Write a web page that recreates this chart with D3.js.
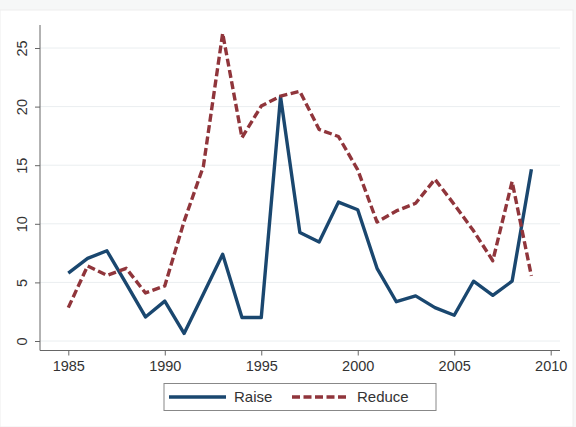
<!DOCTYPE html>
<html>
<head>
<meta charset="utf-8">
<script src="https://cdn.jsdelivr.net/npm/d3@7"></script>
<style>
  body { margin: 0; background: #f6f7f7; }
  svg { display: block; }
  svg text { font-family: "Liberation Sans", Arial, sans-serif; }
</style>
</head>
<body>
<div id="vis"></div>
<script>
const width = 576;
const height = 427;

// data
const years = d3.range(1985, 2010);
const raise = [5.8, 7.05, 7.7, 4.9, 2.05, 3.4, 0.65, 4.0, 7.4, 2.0, 2.0, 20.85,
               9.25, 8.45, 11.85, 11.2, 6.2, 3.35, 3.85, 2.85, 2.2, 5.1, 3.9, 5.1, 14.65];
const reduce = [2.85, 6.4, 5.6, 6.2, 4.1, 4.7, 10.2, 14.9, 26.25, 17.35, 20.05, 20.9,
                21.3, 18.05, 17.45, 14.6, 10.15, 11.1, 11.75, 13.8, 11.65, 9.4, 6.85, 13.6, 5.55];
const xTicks = [1985, 1990, 1995, 2000, 2005, 2010];
const yTicks = [0, 5, 10, 15, 20, 25];

const series = [
    { name: 'Raise', values: raise, color: '#1a476f', dash: null },
    { name: 'Reduce', values: reduce, color: '#90353b', dash: '8,3.5' }
];

let vis = d3.select('#vis')
            .append('svg')
            .attr('width', width)
            .attr('height', height);

// white graph region
vis.append('rect')
   .attr('x', 0).attr('y', 10)
   .attr('width', 573).attr('height', height - 10)
   .attr('fill', '#ffffff')
   .attr('stroke', '#eeeeee');

const x = d3.scaleLinear().domain([1985, 2010]).range([68.3, 550.7]);
const y = d3.scaleLinear().domain([0, 25]).range([341, 48]);

// gridlines
vis.append('g')
   .selectAll('line')
   .data(yTicks)
   .enter()
   .append('line')
   .attr('x1', 40).attr('x2', 560)
   .attr('y1', d => y(d)).attr('y2', d => y(d))
   .attr('stroke', '#eaeef0')
   .attr('stroke-width', 1);

// y axis
const yAxis = vis.append('g')
   .attr('transform', 'translate(40,0)')
   .call(d3.axisLeft(y).tickValues(yTicks).tickSize(5).tickPadding(6));
yAxis.select('.domain').attr('d', 'M-0,25V350.5');

// x axis
const xAxis = vis.append('g')
   .attr('transform', 'translate(0,350.5)')
   .call(d3.axisBottom(x).tickValues(xTicks).tickFormat(d3.format('d')).tickSize(5).tickPadding(5));
xAxis.select('.domain').attr('d', 'M40,0H560');

vis.selectAll('.domain').attr('stroke', '#666');
vis.selectAll('.tick line').attr('stroke', '#666');
vis.selectAll('.tick text').attr('fill', '#333').style('font-size', '14.5px');

// rotated y labels
yAxis.selectAll('.tick text')
     .attr('x', null).attr('dy', null)
     .attr('text-anchor', 'middle')
     .attr('transform', 'translate(-18,0) rotate(-90)')
     .attr('dy', '0.35em');

// lines
const line = d3.line()
               .x((d, i) => x(years[i]))
               .y(d => y(d));

vis.append('g')
   .selectAll('path')
   .data(series)
   .enter()
   .append('path')
   .attr('d', d => line(d.values))
   .attr('fill', 'none')
   .attr('stroke', d => d.color)
   .attr('stroke-width', 3.4)
   .attr('stroke-linejoin', 'round')
   .attr('stroke-dasharray', d => d.dash);

// legend
const legend = vis.append('g');
legend.append('rect')
      .attr('x', 164).attr('y', 383.5)
      .attr('width', 272).attr('height', 27)
      .attr('fill', '#fff')
      .attr('stroke', '#888');

const legendPos = [{ x1: 169, x2: 226, tx: 234 }, { x1: 292, x2: 349, tx: 357 }];
series.forEach((s, i) => {
    const p = legendPos[i];
    legend.append('line')
          .attr('x1', p.x1).attr('x2', p.x2)
          .attr('y1', 397).attr('y2', 397)
          .attr('stroke', s.color)
          .attr('stroke-width', 3.4)
          .attr('stroke-dasharray', s.dash);
    legend.append('text')
          .attr('x', p.tx).attr('y', 397)
          .attr('dy', '0.35em')
          .attr('fill', '#333')
          .style('font-size', '15px')
          .text(s.name);
});
</script>
</body>
</html>
